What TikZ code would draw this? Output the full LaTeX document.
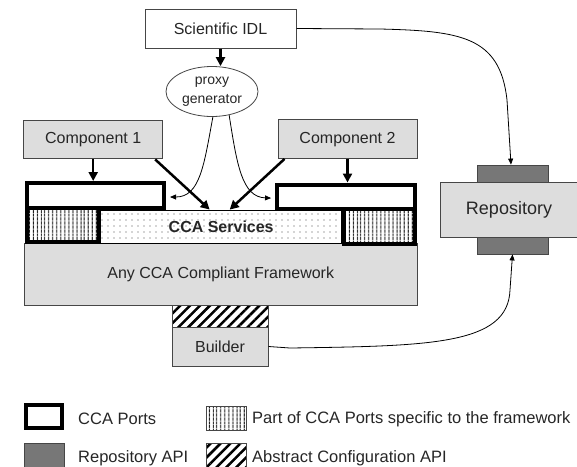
\documentclass[tikz,border=0pt]{standalone}
\usepackage{fontspec}
\setmainfont{Liberation Sans}
\usetikzlibrary{shapes,shapes.geometric,arrows.meta,patterns.meta}
\definecolor{boxgray}{RGB}{221,221,221}
\definecolor{edgegray}{RGB}{70,70,70}
\tikzset{
  basenode/.style = {align=center, inner sep=0pt, text centered, text=black!85, font=\fontsize{16}{19}\selectfont},
  box_w/.style = {basenode, rectangle, draw=edgegray, line width=1pt, fill=white},
  box_g/.style = {basenode, rectangle, draw=edgegray, line width=1pt, fill=boxgray},
  proxy_n/.style = {basenode, ellipse, draw=edgegray, line width=.8pt, fill=white, minimum width=92pt, minimum height=50pt, font=\fontsize{14}{18.5}\selectfont},
  port_n/.style = {rectangle, inner sep=0pt, draw=black, line width=4pt, fill=white},
  spec_n/.style = {rectangle, inner sep=0pt, draw=black, line width=4pt, preaction={fill=white}, pattern={Lines[angle=90,distance=4pt,line width=1.3pt]}},
  spec_l/.style = {spec_n, draw=edgegray, line width=.8pt},
  svc_n/.style = {basenode, rectangle, draw=black, line width=.8pt, preaction={fill=white}, pattern={Dots[distance=6pt,radius=.6pt]}, pattern color=black!70, font=\fontsize{16}{19}\selectfont\bfseries},
  api_n/.style = {rectangle, inner sep=0pt, draw=edgegray, line width=.8pt, preaction={fill=black!45}, pattern={Dots[distance=2pt,radius=.55pt]}, pattern color=black!80},
  cfg_n/.style = {rectangle, inner sep=0pt, draw=edgegray, line width=.8pt, preaction={fill=white}, pattern={Lines[angle=45,distance=7pt,line width=2.5pt]}},
  legend_t/.style = {basenode, anchor=west, font=\fontsize{16.5}{19}\selectfont},
  thick_arr/.style = {line width=2.5pt, -{Triangle[length=9pt,width=9pt]}},
  thin_arr/.style = {line width=.8pt, -{Triangle[length=6pt,width=5pt]}}
}

\begin{document}
\begin{tikzpicture}[x=1pt,y=-1pt]
\useasboundingbox (0,0) rectangle (577,466);

\node [box_w, minimum width=151pt, minimum height=39pt] (idl) at (220.5,28.5) {Scientific IDL};
\node [proxy_n] (proxy) at (212,91.5) {proxy\\generator};
\node [box_g, minimum width=139pt, minimum height=38.5pt] (comp1) at (93.2,139.7) {Component 1};
\node [box_g, minimum width=139pt, minimum height=38.5pt] (comp2) at (347.5,139.2) {Component 2};

\node [box_g, minimum width=393pt, minimum height=62pt] (frame) at (220.7,274) {Any CCA Compliant Framework};
\node [svc_n, minimum width=241pt, minimum height=33pt] (svc) at (221.2,226.5) {CCA Services};
\node [spec_n, minimum width=71.7pt, minimum height=34pt] (spec1) at (62.9,225) {};
\node [spec_n, minimum width=71.6pt, minimum height=35pt] (spec2) at (379.5,226.2) {};
\node [port_n, minimum width=137pt, minimum height=25pt] (port1) at (95.5,195.5) {};
\node [port_n, minimum width=138.3pt, minimum height=24.2pt] (port2) at (346.2,196.6) {};

\node [box_g, minimum width=138pt, minimum height=55pt, font=\fontsize{18}{21}\selectfont] (repo) at (509,209.5) {Repository};
\node [api_n, minimum width=71pt, minimum height=17pt] (api_t) at (512.5,173.5) {};
\node [api_n, minimum width=71pt, minimum height=17pt] (api_b) at (512.5,245.5) {};

\node [cfg_n, minimum width=96pt, minimum height=22pt] (cfg) at (220,316) {};
\node [box_g, minimum width=96pt, minimum height=39pt] (builder) at (220,346.5) {Builder};

\draw [thick_arr] (idl.south) -- (idl.south |- proxy.north);
\draw [thick_arr] (comp1.south) -- (comp1.south |- port1.north);
\draw [thick_arr] (comp2.south) -- (comp2.south |- port2.north);
\draw [thick_arr] ([xshift=-8pt]comp1.south east) -- ([xshift=-11.5pt]svc.north);
\draw [thick_arr] ([xshift=7pt]comp2.south west) -- ([xshift=8.5pt]svc.north);
\draw [thin_arr] (proxy.-88) .. controls (204,165) and (200,197) .. ([xshift=4pt,yshift=-1.5pt]port1.east);
\draw [thin_arr] (proxy.-54) .. controls (237,165) and (242,197) .. ([xshift=-4pt,yshift=-1.5pt]port2.west);
\draw [thin_arr] (idl.east) -- (380,29) .. controls (460,31) and (500,36) .. (507,100) -- ([xshift=-1.5pt]api_t.north);
\draw [thin_arr] (builder.east) -- (290,348) .. controls (430,346) and (508,345) .. (510,290) -- (api_b.south);

\node [port_n, minimum width=36pt, minimum height=23pt] (lg_port) at (44.3,416.5) {};
\node [legend_t] (lg_port_t) at (78,419) {CCA Ports};
\node [spec_l, minimum width=40pt, minimum height=24pt] (lg_spec) at (226,418) {};
\node [legend_t] (lg_spec_t) at (252,419) {Part of CCA Ports specific to the framework};
\node [api_n, minimum width=40pt, minimum height=27pt] (lg_api) at (44.3,456.5) {};
\node [legend_t] (lg_api_t) at (78,458) {Repository API};
\node [cfg_n, minimum width=40pt, minimum height=27pt] (lg_cfg) at (226,456.5) {};
\node [legend_t] (lg_cfg_t) at (252,458) {Abstract Configuration API};
\end{tikzpicture}
\end{document}
